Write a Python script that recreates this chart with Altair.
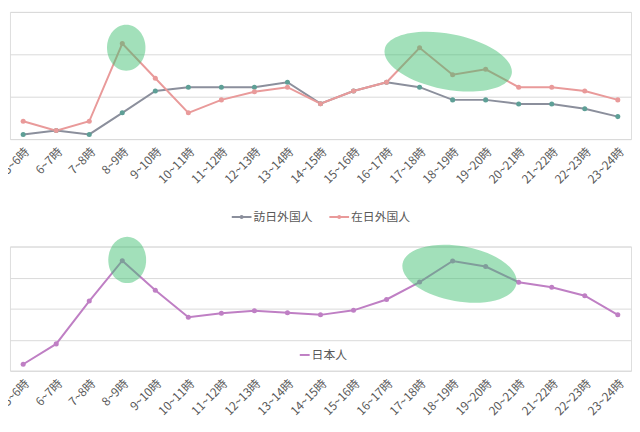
import altair as alt
import pandas as pd

hours = ["5~6時", "6~7時", "7~8時", "8~9時", "9~10時", "10~11時", "11~12時",
         "12~13時", "13~14時", "14~15時", "15~16時", "16~17時", "17~18時",
         "18~19時", "19~20時", "20~21時", "21~22時", "22~23時", "23~24時"]

visitors = [0.22, 0.40, 0.22, 1.24, 2.27, 2.45, 2.45, 2.45, 2.68, 1.67,
            2.27, 2.68, 2.45, 1.85, 1.85, 1.66, 1.66, 1.43, 1.06]
residents = [0.84, 0.40, 0.84, 4.51, 2.87, 1.24, 1.85, 2.23, 2.45, 1.67,
             2.27, 2.68, 4.31, 3.04, 3.29, 2.45, 2.45, 2.27, 1.85]
japanese = [0.42, 1.73, 4.49, 7.09, 5.19, 3.45, 3.70, 3.87, 3.73, 3.60,
            3.89, 4.59, 5.71, 7.07, 6.71, 5.70, 5.38, 4.83, 3.60]

series_top = ["訪日外国人", "在日外国人"]
series_bottom = ["日本人"]

# highlight ellipses: (hour, value, x offset, semi-axis x, semi-axis y, angle)
top_marks = [("8~9時", 4.31, 4, 19.5, 23.3, 0), ("18~19時", 3.65, -4.5, 65.6, 28.1, 11)]
bottom_marks = [("8~9時", 7.14, 5, 19.2, 23.5, 0), ("18~19時", 6.25, 7, 58.7, 28.1, 10)]

FONT = "Noto Sans CJK JP"
TXT = "#595959"
GRID = "#d9d9d9"
GREEN = "#3cbf6f"

df_top = pd.DataFrame({
    "hour": hours * 2,
    "value": visitors + residents,
    "series": [series_top[0]] * len(hours) + [series_top[1]] * len(hours),
})
df_bottom = pd.DataFrame({"hour": hours, "value": japanese, "group": series_bottom * len(hours)})

K = 0.5523


def ellipse_path(rx, ry):
    return (f"M {rx} 0 C {rx} {K*ry:.4f} {K*rx:.4f} {ry} 0 {ry} "
            f"C {-K*rx:.4f} {ry} {-rx} {K*ry:.4f} {-rx} 0 "
            f"C {-rx} {-K*ry:.4f} {-K*rx:.4f} {-ry} 0 {-ry} "
            f"C {K*rx:.4f} {-ry} {rx} {-K*ry:.4f} {rx} 0 Z")


def ellipse_layers(marks):
    layers = []
    for hour, v, dx, ax, ay, ang in marks:
        big = max(ax, ay)
        path = ellipse_path(round(ax / big, 4), round(ay / big, 4))
        size = (2 * big) ** 2
        d = pd.DataFrame({"hour": [hour], "value": [v]})
        layers.append(
            alt.Chart(d).mark_point(shape=path, size=size, angle=ang, filled=True,
                                    fill=GREEN, opacity=0.48, strokeWidth=0, xOffset=dx)
            .encode(x=alt.X("hour:N", sort=hours), y=alt.Y("value:Q"))
        )
    return layers


x_axis = alt.Axis(title=None, labelAngle=-45, labelFontSize=12, labelColor=TXT,
                  ticks=False, domain=False, grid=False, labelPadding=7, labelFont=FONT)
x_scale = alt.Scale(type="point", padding=0.4)

W = 630

# ---- top panel ----
legend_sym = ("M -1 0 L 1 0 M 0.1 0 C 0.1 0.055 0.055 0.1 0 0.1 C -0.055 0.1 -0.1 0.055 -0.1 0 "
              "C -0.1 -0.055 -0.055 -0.1 0 -0.1 C 0.055 -0.1 0.1 -0.055 0.1 0 Z")
top_line = alt.Chart(df_top).mark_line(strokeWidth=2).encode(
    x=alt.X("hour:N", sort=hours, axis=x_axis, scale=x_scale),
    y=alt.Y("value:Q", scale=alt.Scale(domain=[0, 6], nice=False),
            axis=alt.Axis(title=None, labels=False, ticks=False, domain=False,
                          values=[0, 2, 4, 6], tickCount=4, gridColor=GRID)),
    color=alt.Color("series:N", scale=alt.Scale(domain=series_top, range=["#8b8f9c", "#e99a9a"]),
                    legend=alt.Legend(title=None, orient="none", legendX=224, legendY=197,
                                      direction="horizontal", symbolType=legend_sym,
                                      symbolSize=400, symbolStrokeWidth=2, labelFontSize=12,
                                      labelColor=TXT, labelFont=FONT, columnPadding=12,
                                      labelOffset=1)),
)
top_pts = alt.Chart(df_top).mark_circle(size=26, opacity=1).encode(
    x=alt.X("hour:N", sort=hours),
    y=alt.Y("value:Q"),
    fill=alt.Fill("series:N", scale=alt.Scale(domain=series_top, range=["#5e9f96", "#e99a9a"]),
                  legend=None),
)
top = alt.layer(top_line, top_pts, *ellipse_layers(top_marks)).properties(width=W, height=129)

# ---- bottom panel ----
bot_line = alt.Chart(df_bottom).mark_line(strokeWidth=2).encode(
    x=alt.X("hour:N", sort=hours, axis=x_axis, scale=x_scale),
    y=alt.Y("value:Q", scale=alt.Scale(domain=[0, 8], nice=False),
            axis=alt.Axis(title=None, labels=False, ticks=False, domain=False,
                          values=[0, 2, 4, 6, 8], tickCount=5, gridColor=GRID)),
    color=alt.Color("group:N", scale=alt.Scale(domain=series_bottom, range=["#bf7fc4"]),
                    legend=alt.Legend(title=None, orient="none", legendX=293, legendY=104,
                                      symbolType="stroke", symbolSize=100,
                                      symbolStrokeWidth=2, labelFontSize=12,
                                      labelColor=TXT, labelFont=FONT, labelOffset=1)),
)
bot_pts = alt.Chart(df_bottom).mark_circle(size=26, opacity=1, color="#bf7fc4").encode(
    x=alt.X("hour:N", sort=hours),
    y=alt.Y("value:Q"),
)
bottom = alt.layer(bot_line, bot_pts, *ellipse_layers(bottom_marks)).properties(width=W, height=126)

chart = alt.vconcat(top, bottom, spacing=12).resolve_scale(
    color="independent", fill="independent", x="independent", y="independent"
).resolve_legend(color="independent").properties(
    padding={"left": -9, "top": 0, "right": 0, "bottom": 0}
).configure_view(stroke=None).configure(font=FONT)

chart.save("out.html", embed_options={"renderer": "svg", "actions": False})
